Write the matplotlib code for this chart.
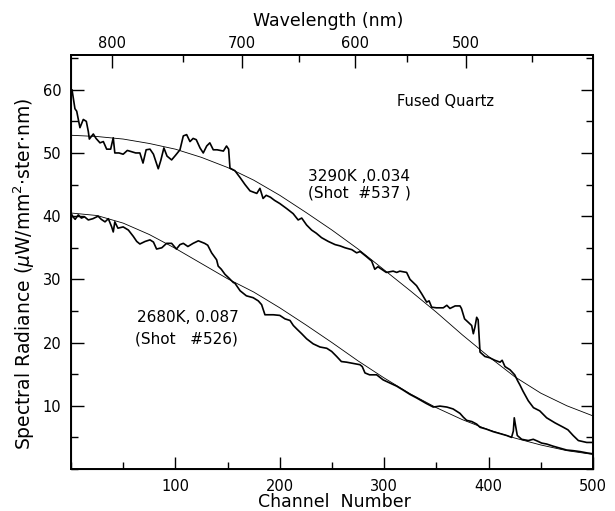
import matplotlib
matplotlib.use('Agg')
import matplotlib.pyplot as plt
from matplotlib.ticker import MultipleLocator

# shot 537 measured spectrum (channel, radiance)
ch_537 = [0, 1, 3.8, 5.5, 8.6, 11.8, 14.7, 16.6, 17.6, 21.4, 24, 27.8, 31, 34.2, 38, 40.5, 42, 46, 50,
          54, 58, 62, 66, 69, 72, 75.7, 79, 83.6, 86, 89, 92, 96.4, 100, 104.4, 107.6, 110.8, 114, 117,
          120, 123.6, 126.7, 130, 133, 136.3, 140, 146, 149, 151, 152.3, 157, 162, 166.7, 171.5, 178,
          181, 184, 187, 191, 195, 200, 206.6, 212.8, 217.6, 221, 225.7, 230.5, 235, 240, 246.5, 253,
          257.7, 262.5, 269, 273.6, 277, 283, 288, 291, 294, 302, 308.6, 312, 315, 321.5, 324.7, 331,
          336, 340.7, 343, 345.5, 350, 356.6, 360, 363, 368, 372.6, 374, 377, 380.6, 383.8, 385.4, 387,
          388.6, 390, 391.8, 396.5, 401, 406, 411, 413, 415.7, 420.5, 425, 428, 430, 433, 438, 443, 449,
          455.6, 463.6, 471.6, 476, 481, 486, 494, 500]
val_537 = [59.5, 60, 57, 56.6, 54, 55.3, 55, 53.4, 52.2, 53, 52.3, 51.6, 51.8, 50.6, 50.6, 52.4, 50.0,
           50.0, 49.8, 50.4, 50.2, 50.0, 50.0, 48.4, 50.5, 50.6, 49.8, 47.5, 48.8, 50.8, 49.5, 48.9,
           49.6, 50.5, 52.7, 52.9, 51.8, 52.3, 52.1, 50.8, 50.0, 51.1, 51.6, 50.5, 50.5, 50.3, 51.1,
           50.6, 47.6, 47.2, 46.1, 45.0, 44.0, 43.6, 44.4, 42.8, 43.3, 43.0, 42.5, 42.0, 41.2, 40.4,
           39.4, 39.7, 38.6, 37.8, 37.3, 36.6, 36.0, 35.5, 35.3, 35.0, 34.7, 34.2, 34.4, 33.6, 32.9,
           31.6, 32.0, 31.1, 31.3, 31.1, 31.3, 31.1, 30.0, 29.0, 27.7, 26.4, 26.6, 25.6, 25.5, 25.5,
           25.9, 25.4, 25.8, 25.8, 25.4, 23.75, 23.2, 22.7, 21.4, 22.5, 24.0, 23.6, 18.5, 17.8, 17.6,
           17.2, 16.9, 17.2, 16.2, 15.7, 14.9, 13.9, 13.3, 12.3, 10.8, 9.7, 9.2, 8.1, 7.3, 6.6, 6.2,
           5.3, 4.5, 4.2, 4.2]

# shot 526 measured spectrum
ch_526 = [0, 0.5, 2, 4, 7, 10, 13, 16.6, 21, 26, 29, 32.6, 35.8, 39, 40.5, 42, 45, 50, 55, 59.7, 63,
          66, 71, 75.7, 79, 82, 87, 91.6, 96.4, 101, 104.4, 107.6, 112, 117, 122, 128, 131, 134.7,
          139.5, 141, 144, 147.5, 150.7, 155.5, 157, 162, 168, 174.5, 179.4, 182.6, 185.8, 193.8, 200,
          205, 209.8, 213, 216, 221, 225.7, 232, 238.5, 245, 249.7, 254.5, 259, 264, 270.4, 276.8, 279,
          281.6, 286, 292.8, 299, 305.5, 312, 318, 324.7, 331, 340, 347, 353.4, 360, 366, 372.6, 375.8,
          379, 384, 388.6, 391.8, 398, 404.5, 411, 417.3, 422, 423.7, 424.6, 426, 427.5, 431.7, 438,
          442.8, 447, 450.8, 455.6, 462, 468.4, 474.8, 481, 487.7, 494, 500]
val_526 = [38.6, 40.3, 39.9, 39.5, 40.2, 39.7, 39.9, 39.4, 39.6, 40.0, 39.5, 39.1, 39.6, 38.3, 37.5,
           39.1, 38.1, 38.3, 37.8, 36.8, 36.0, 35.6, 36.0, 36.25, 35.9, 34.8, 35.0, 35.7, 35.7, 34.8,
           35.5, 35.7, 35.2, 35.7, 36.1, 35.7, 35.4, 34.2, 33.1, 32.1, 31.6, 30.8, 30.3, 29.5, 29.4,
           28.2, 27.4, 27.1, 26.6, 26.0, 24.4, 24.4, 24.3, 23.75, 23.5, 22.7, 22.2, 21.4, 20.6, 19.8,
           19.3, 19.1, 18.6, 17.8, 17.0, 16.9, 16.7, 16.5, 16.2, 15.2, 14.9, 14.9, 14.1, 13.6, 13.1,
           12.5, 11.8, 11.25, 10.4, 9.8, 9.95, 9.8, 9.5, 8.8, 8.2, 7.7, 7.5, 7.1, 6.6, 6.3, 5.9, 5.6,
           5.3, 5.0, 6.0, 8.1, 6.7, 5.3, 4.7, 4.5, 4.7, 4.4, 4.1, 3.95, 3.6, 3.3, 3.0, 2.9, 2.75,
           2.55, 2.4]

# fitted grey-body curves, read every 25 channels
fit_ch = [0, 25, 50, 75, 100, 125, 150, 175, 200, 225, 250, 275, 300, 325, 350, 375, 400, 425, 450,
          475, 500]
fit_537 = [52.8, 52.6, 52.2, 51.5, 50.6, 49.3, 47.7, 45.7, 43.3, 40.6, 37.8, 34.8, 31.5, 28.2, 24.8,
           21.2, 17.8, 14.6, 12.0, 10.0, 8.4]
fit_526 = [40.5, 40.1, 38.9, 37.1, 34.9, 32.5, 30.1, 28.0, 25.5, 22.8, 20.0, 17.1, 14.4, 11.9, 9.7,
           7.8, 6.2, 4.9, 3.8, 2.9, 2.3]

# wavelength scale on top (channel position of each wavelength tick)
wl_major = [800, 700, 600, 500]
wl_major_ch = [39.7, 163.5, 272, 378]
wl_minor_ch = [107, 218.7, 322, 441.6]

plt.rcParams['font.family'] = ['DejaVu Sans']

fig = plt.figure(figsize=(6.15, 5.11), dpi=100)
ax = fig.add_axes([0.1154, 0.0822, 0.8488, 0.8102])

ax.plot(ch_537, val_537, color='black', lw=1.2)
ax.plot(ch_526, val_526, color='black', lw=1.2)
ax.plot(fit_ch, fit_537, color='black', lw=0.6)
ax.plot(fit_ch, fit_526, color='black', lw=0.6)

ax.set_xlim(0, 500)
ax.set_ylim(0, 65.5)
ax.set_xticks([100, 200, 300, 400, 500])
ax.xaxis.set_minor_locator(MultipleLocator(50))
ax.set_yticks([10, 20, 30, 40, 50, 60])
ax.yaxis.set_minor_locator(MultipleLocator(5))
ax.tick_params(which='both', direction='in', top=False, right=True, labelsize=10.5, width=1)
ax.tick_params(which='major', length=9)
ax.tick_params(which='minor', length=5)
ax.tick_params(axis='y', pad=7)
ax.tick_params(axis='x', pad=7)
for s in ax.spines.values():
    s.set_linewidth(1.4)

top = ax.twiny()
top.set_xlim(0, 500)
top.set_xticks(wl_major_ch, [str(w) for w in wl_major])
top.set_xticks(wl_minor_ch, minor=True)
top.tick_params(which='both', direction='in', labelsize=10.5, width=1, pad=3)
top.tick_params(which='major', length=9)
top.tick_params(which='minor', length=5)
top.spines['top'].set_linewidth(1.2)

fig.text(328 / 615, 1 - 21.5 / 511, 'Wavelength (nm)', ha='center', va='center', fontsize=12.5)
fig.text(334 / 615, 1 - 502 / 511, 'Channel  Number', ha='center', va='center', fontsize=12.5)
fig.text(24 / 615, 1 - 274 / 511, r'Spectral Radiance ($\mu$W/mm$^2$$\cdot$ster$\cdot$nm)',
         ha='center', va='center', rotation=90, fontsize=13.5)

ax.text(312, 58.1, 'Fused Quartz', ha='left', va='center', fontsize=10.5)
ax.text(227, 46.2, '3290K ,0.034', ha='left', va='center', fontsize=11)
ax.text(227, 43.6, '(Shot  #537 )', ha='left', va='center', fontsize=11)
ax.text(63, 23.9, '2680K, 0.087', ha='left', va='center', fontsize=11)
ax.text(61, 20.6, '(Shot   #526)', ha='left', va='center', fontsize=11)

fig.savefig('out.png', dpi=100)
